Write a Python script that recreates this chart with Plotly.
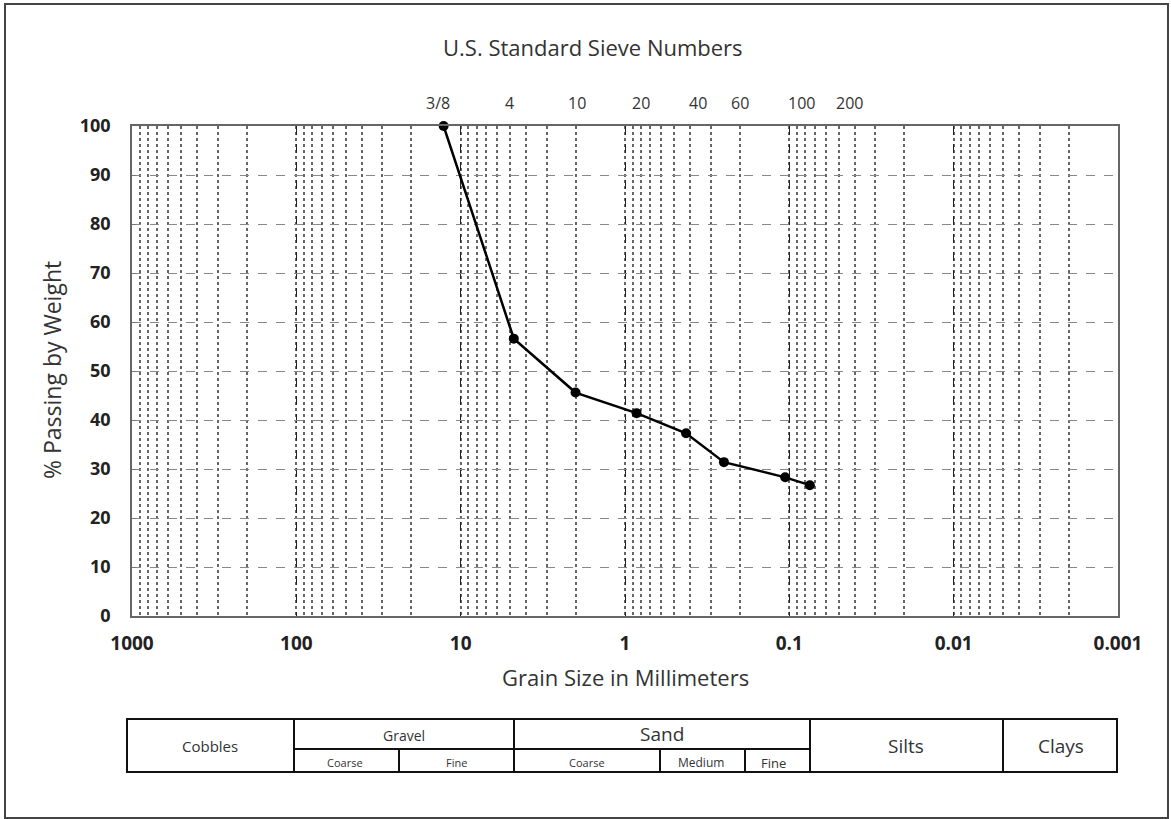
import math
import plotly.graph_objects as go

# ---- data ----
grain_size_mm = [12.7, 4.75, 2.0, 0.85, 0.425, 0.25, 0.106, 0.075]
percent_passing = [100, 56.6, 45.6, 41.4, 37.3, 31.4, 28.3, 26.7]

x_tick_vals = [1000, 100, 10, 1, 0.1, 0.01, 0.001]
x_tick_text = ["1000", "100", "10", "1", "0.1", "0.01", "0.001"]
y_tick_vals = [0, 10, 20, 30, 40, 50, 60, 70, 80, 90, 100]

sieve_labels = ["3/8", "4", "10", "20", "40", "60", "100", "200"]
sieve_label_pos_mm = [13.8, 5.07, 1.96, 0.80, 0.36, 0.20, 0.084, 0.043]

W, H = 1171, 819
L, R, T, B = 132, 53, 126, 203
PW, PH = W - L - R, H - T - B


def px(x):
    return (x - L) / PW


def py(y):
    return (H - B - y) / PH


FONT = "'Open Sans', Lato, sans-serif"

fig = go.Figure()
fig.add_trace(go.Scatter(
    x=grain_size_mm, y=percent_passing, mode="lines+markers",
    line=dict(color="black", width=2.5),
    marker=dict(color="black", size=10),
    showlegend=False, cliponaxis=False,
))

fig.update_layout(
    width=W, height=H,
    margin=dict(l=L, r=R, t=T, b=B),
    paper_bgcolor="white", plot_bgcolor="white",
    font=dict(family=FONT, color="#333"),
    xaxis=dict(
        type="log", range=[3, -3],
        tickvals=x_tick_vals, ticktext=x_tick_text,
        tickfont=dict(size=19, color="#222", family=FONT, weight="bold"),
        ticks="", ticklabelstandoff=9,
        showgrid=True, gridcolor="#222", griddash="dash", gridwidth=1.3,
        minor=dict(dtick="D1", showgrid=True, gridcolor="#666",
                   griddash="dot", gridwidth=1.6, ticks=""),
        showline=True, linecolor="#666", linewidth=1.5, mirror=True,
        zeroline=False,
    ),
    yaxis=dict(
        range=[0, 100], tickvals=y_tick_vals,
        tickfont=dict(size=18, color="#222", family=FONT, weight="bold"),
        ticks="inside", ticklen=4, tickcolor="#777", ticklabelstandoff=16,
        showgrid=True, gridcolor="#888", griddash="dash", gridwidth=1.3,
        showline=True, linecolor="#666", linewidth=1.5, mirror=True,
        zeroline=False,
    ),
)

ann = []


def add_text(text, x, y, size, xref="paper", angle=0):
    ann.append(dict(text=text, x=x, y=y, xref=xref, yref="paper",
                    xanchor="center", yanchor="middle", showarrow=False,
                    textangle=angle, font=dict(size=size, color="#333")))


add_text("U.S. Standard Sieve Numbers", px(593), py(47), 22)
add_text("Grain Size in Millimeters", px(625), py(677), 22)
add_text("% Passing by Weight", px(52), py(370), 23, angle=-90)
for lab, pos in zip(sieve_labels, sieve_label_pos_mm):
    add_text(lab, math.log10(pos), py(103), 16, xref="x")

# classification table
tbl_left, tbl_right, tbl_top, tbl_bot, tbl_mid = 127, 1117, 719, 772, 749
shapes = []
line_style = dict(color="#111", width=2)
shapes.append(dict(type="rect", xref="paper", yref="paper",
                   x0=px(tbl_left), x1=px(tbl_right), y0=py(tbl_bot), y1=py(tbl_top),
                   line=line_style))
for xv in [294, 514, 810, 1003]:
    shapes.append(dict(type="line", xref="paper", yref="paper",
                       x0=px(xv), x1=px(xv), y0=py(tbl_bot), y1=py(tbl_top),
                       line=line_style))
shapes.append(dict(type="line", xref="paper", yref="paper",
                   x0=px(294), x1=px(810), y0=py(tbl_mid), y1=py(tbl_mid),
                   line=line_style))
for xv in [399, 660, 745]:
    shapes.append(dict(type="line", xref="paper", yref="paper",
                       x0=px(xv), x1=px(xv), y0=py(tbl_bot), y1=py(tbl_mid),
                       line=line_style))
# outer frame
shapes.append(dict(type="rect", xref="paper", yref="paper",
                   x0=px(5), x1=px(1168), y0=py(818), y1=py(4),
                   line=dict(color="#444", width=2)))

table_texts = [
    ("Cobbles", 210, 746, 15), ("Gravel", 404, 735, 14),
    ("Coarse", 345, 762, 11), ("Fine", 456, 762, 11),
    ("Sand", 662, 734, 19), ("Coarse", 587, 762, 11),
    ("Medium", 701, 762, 12), ("Fine", 773, 763, 13),
    ("Silts", 906, 746, 19), ("Clays", 1061, 746, 19),
]
for t, xx, yy, s in table_texts:
    add_text(t, px(xx), py(yy), s)

fig.update_layout(annotations=ann, shapes=shapes)
fig.write_html("out.html", config={"displayModeBar": False},
               post_script="document.body.style.margin='0px';document.body.style.padding='0px';")
